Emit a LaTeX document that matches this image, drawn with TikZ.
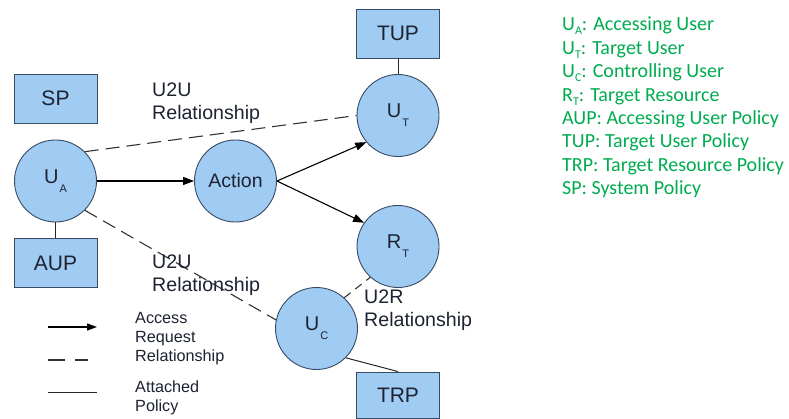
\documentclass[tikz,border=0pt]{standalone}
\usepackage{fontspec}
\setmainfont{Liberation Sans}
\newfontfamily\legendfont{Carlito}
\usetikzlibrary{arrows.meta}
\definecolor{nodefill}{RGB}{160,203,242}
\definecolor{nodeline}{RGB}{55,75,100}
\definecolor{inkdark}{RGB}{30,35,50}
\definecolor{keygreen}{RGB}{0,172,80}
\newcommand\lowsub[1]{\kern1pt\raisebox{-9pt}{\fontsize{11}{11}\selectfont #1}}
\newcommand\keysub[1]{\raisebox{-4pt}{\fontsize{12}{12}\selectfont #1}}
\begin{document}
\begin{tikzpicture}[x=1pt,y=-1pt,
  entity/.style={circle,draw=nodeline,fill=nodefill,line width=0.9pt,
    minimum size=82pt,inner sep=0pt,text=inkdark,font=\fontsize{20}{20}\selectfont},
  policy/.style={rectangle,draw=nodeline,fill=nodefill,line width=0.9pt,
    minimum width=83pt,minimum height=49pt,inner sep=0pt,text=inkdark,
    font=\fontsize{21}{21}\selectfont},
  request/.style={-{Triangle[length=11pt,width=8pt]},line width=1.1pt,draw=black},
  relation/.style={dash pattern=on 14pt off 7pt,line width=1.1pt,draw=black!80},
  attached/.style={line width=1pt,draw=black!85},
  lbl/.style={align=left,anchor=north west,inner sep=0pt,text=inkdark,
    font=\fontsize{19.6}{22.5}\selectfont},
  keytext/.style={anchor=north west,inner sep=0pt,text=keygreen,
    font=\legendfont\fontsize{20}{23.4}\selectfont,align=left}]
\useasboundingbox[fill=white] (0,0) rectangle (789,419);

% policy boxes
\node[policy] (SP)  at (55.5,98.5) {SP};
\node[policy] (AUP) at (55.5,263) {AUP};
\node[policy] (TUP) at (398,33.5) {TUP};
\node[policy,minimum height=46pt] (TRP) at (398,395) {TRP};

% entities
\node[entity] (UA)  at (55.5,181) {U\lowsub{A}};
\node[entity,font=\fontsize{19.5}{19.5}\selectfont] (ACT) at (235.5,181) {Action};
\node[entity] (UT)  at (398,115.5) {U\lowsub{T}};
\node[entity] (RT)  at (398,246.5) {R\lowsub{T}};
\node[entity] (UC)  at (316.5,328.5) {U\lowsub{C}};

% access requests
\draw[request] (UA.east) -- (ACT.west);
\draw[request] (ACT.east) -- (UT.220);
\draw[request] (ACT.east) -- (RT.145);

% relationships
\draw[relation] (UA.45) -- (UT.180);
\draw[relation] (UA.-45) -- (UC.168);
\draw[relation,dash pattern=on 8pt off 6pt] (UC.48) -- (RT.228);

% attached policies
\draw[attached] (TUP.south) -- (UT.north);
\draw[attached] (UA.south) -- (AUP.north);
\draw[attached] (UC.-45) -- (TRP.north);

% relationship labels
\node[lbl] (l1) at (152,83) {U2U\\Relationship};
\node[lbl] (l2) at (152,255) {U2U\\Relationship};
\node[lbl] (l3) at (364,290) {U2R\\Relationship};

% line style key
\coordinate (k1a) at (48,327);  \coordinate (k1b) at (97,327);
\coordinate (k2a) at (48,360);  \coordinate (k2b) at (88,360);
\coordinate (k3a) at (48,392);  \coordinate (k3b) at (97,392);
\draw[request,-{Triangle[length=10pt,width=7pt]}] (k1a) -- (k1b);
\draw[relation,dash pattern=on 17pt off 10pt] (k2a) -- (k2b);
\draw[attached] (k3a) -- (k3b);
\node[lbl,font=\fontsize{16.2}{19}\selectfont] (t1) at (135,312) {Access\\Request};
\node[lbl,font=\fontsize{16.2}{19}\selectfont] (t2) at (135,350) {Relationship};
\node[lbl,font=\fontsize{16.2}{19}\selectfont] (t3) at (135,381) {Attached\\Policy};

% abbreviations
\node[keytext] (abbr) at (562,17) {%
U\keysub{A}: Accessing User\\
U\keysub{T}: Target User\\
U\keysub{C}: Controlling User\\
R\keysub{T}: Target Resource\\
AUP: Accessing User Policy\\
TUP: Target User Policy\\
TRP: Target Resource Policy\\
SP: System Policy};
\end{tikzpicture}
\end{document}
